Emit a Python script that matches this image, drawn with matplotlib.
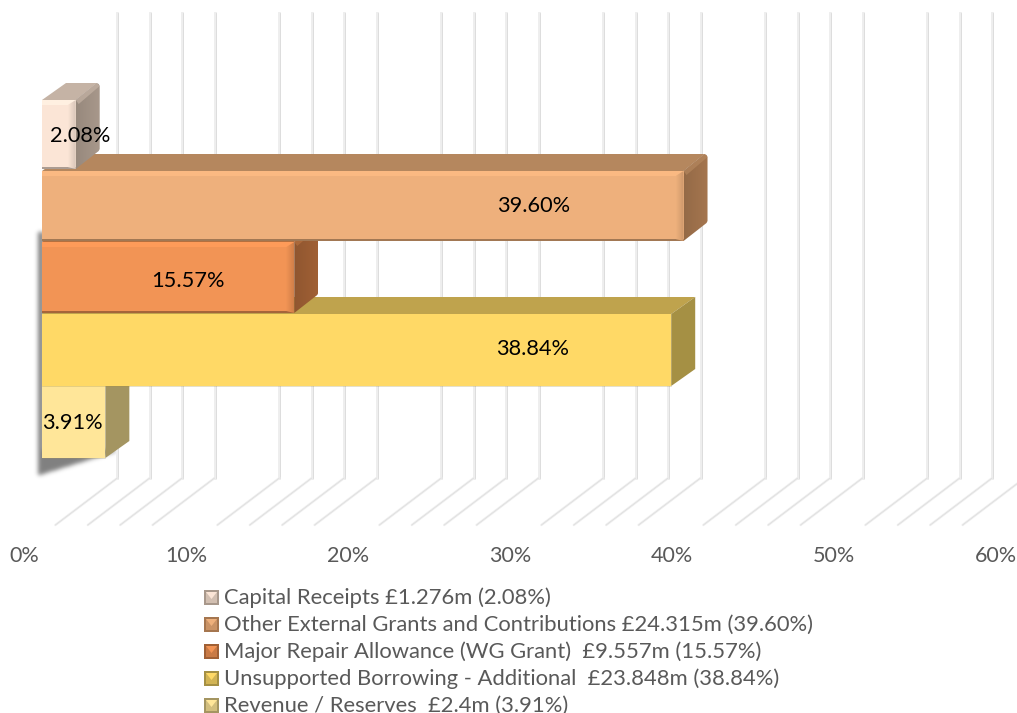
import numpy as np
import matplotlib
matplotlib.use('Agg')
import matplotlib.pyplot as plt
from matplotlib.patches import Polygon, Rectangle
from matplotlib.colors import to_rgb

plt.rcParams['font.family'] = ['Lato', 'DejaVu Sans']

# data, top bar first
names = ['Capital Receipts £1.276m (2.08%)',
         'Other External Grants and Contributions £24.315m (39.60%)',
         'Major Repair Allowance (WG Grant)  £9.557m (15.57%)',
         'Unsupported Borrowing - Additional  £23.848m (38.84%)',
         'Revenue / Reserves  £2.4m (3.91%)']
values = [2.08, 39.60, 15.57, 38.84, 3.91]
value_labels = ['2.08%', '39.60%', '15.57%', '38.84%', '3.91%']
tick_values = [0, 10, 20, 30, 40, 50, 60]
tick_labels = ['0%', '10%', '20%', '30%', '40%', '50%', '60%']
grid_values = [p for p in range(2, 60, 2) if p % 10 != 0]

# styles
faces = ['#FBE5D6', '#EEB07C', '#F29455', '#FFD966', '#FFE699']
tops = ['#C5B3A5', '#B5875E', '#B5703F', '#BFA34D', '#BFAD73']
sides = ['#A8988B', '#A5764F', '#A06035', '#A59044', '#A49561']
bevelled = [True, True, True, False, False]

# layout, in pixels
W, H = 1017, 713
X0 = 42
SCALE = 16.2
FLOOR_X0 = 23
row_top = [100, 171, 242, 314, 386]
row_bot = [169, 241, 313, 386, 458]
label_x = [80, 534, 188, 533, 72]
label_y = [136, 206, 281, 349, 423]
DX, DY = 24, 17


def px(x):
    return (x - X0) / SCALE


fig = plt.figure(figsize=(W / 100, H / 100), dpi=100)
ax = fig.add_axes([0, 0, 1, 1])
ax.set_xlim(px(0), px(W))
ax.set_ylim(H, 0)
ax.axis('off')


def shade(x0, x1, y0, y1, c0, c1, clip=None, z=3):
    c0, c1 = np.array(to_rgb(c0)), np.array(to_rgb(c1))
    t = np.linspace(0, 1, 64)
    img = (c0 + (c1 - c0) * t[:, None])[None, :, :]
    im = ax.imshow(img, extent=(px(x0), px(x1), y1, y0), aspect='auto',
                   zorder=z, interpolation='bilinear')
    if clip is not None:
        im.set_clip_path(Polygon(clip, transform=ax.transData))
    return im


def poly(pts, color, z=3, alpha=1):
    ax.add_patch(Polygon([(px(a), b) for a, b in pts], closed=True, fc=color, ec='none',
                         zorder=z, alpha=alpha))


def mix(c, k):
    return np.clip(np.array(to_rgb(c)) * k, 0, 1)


# gridlines on wall and floor
for p in grid_values:
    fx = FLOOR_X0 + p * SCALE
    bx = fx + 62
    ax.plot([px(bx), px(bx)], [13, 478], color='#EEEEEE', lw=2.1, zorder=1)
    ax.plot([px(bx + 1), px(bx + 1)], [13, 478], color='#D6D6D6', lw=0.5, zorder=1)
    ax.plot([px(bx), px(fx)], [478, 525], color='#EEEEEE', lw=1.7, zorder=1,
            solid_capstyle='round')
    ax.plot([px(bx), px(fx)], [478, 525], color='#DADADA', lw=0.4, zorder=1)

# soft shadow left of the bars and under the last one
gx0, gx1, gy0, gy1 = 26, 116, 222, 492
yy, xx = np.mgrid[gy0:gy1, gx0:gx1]
mask = np.zeros(xx.shape)
mask[(xx >= 38) & (xx < 44) & (yy >= 232) & (yy < 458)] = 1
mask[(yy >= 450) & (xx >= 38) & ((yy - 458) < 17 * (1 - (xx - 38) / 55))] = 1
kernel = np.exp(-np.arange(-8, 9) ** 2 / (2 * 2.2 ** 2))
kernel = kernel / kernel.sum()
mask = np.apply_along_axis(lambda r: np.convolve(r, kernel, mode='same'), 0, mask)
mask = np.apply_along_axis(lambda r: np.convolve(r, kernel, mode='same'), 1, mask)
shadow = np.zeros(xx.shape + (4,))
shadow[..., 3] = mask * 0.5
ax.imshow(shadow, extent=(px(gx0), px(gx1), gy1, gy0), aspect='auto', zorder=2,
          interpolation='bilinear')
ax.set_xlim(px(0), px(W))
ax.set_ylim(H, 0)

# bars, bottom one first so the upper ones sit on top
z = 3
for i in range(len(values) - 1, -1, -1):
    x1 = X0 + values[i] * SCALE
    t, bo = row_top[i], row_bot[i]
    xb, yb = x1 + DX, t - DY
    if bevelled[i]:
        poly([(X0, t), (X0 + DX, yb), (xb - 3, yb), (x1, t)], tops[i], z)
        side = [(x1, t), (xb - 3, yb), (xb - 1, yb + 1), (xb, yb + 3),
                (xb, bo - DY - 3), (xb - 1, bo - DY - 1), (x1, bo)]
        shade(x1, xb, yb, bo, mix(sides[i], 0.9), mix(sides[i], 1.0),
              clip=[(px(a), b) for a, b in side], z=z)
        # mitre between top and side
        poly([(x1, t), (xb - 3, yb), (xb, yb + 3), (x1 + 3, t + 4)], tops[i], z, 0.7)
    else:
        poly([(X0, t), (X0 + DX, yb), (xb, yb), (x1, t)], tops[i], z)
        poly([(x1, t), (xb, yb), (xb, bo - DY), (x1, bo)], sides[i], z)
    poly([(X0, t), (x1, t), (x1, bo), (X0, bo)], faces[i], z)
    if bevelled[i]:
        w = px(x1) - px(X0)
        ax.add_patch(Rectangle((px(X0), t), w, 5, fc=mix(faces[i], 1.05), ec='none', zorder=z))
        ax.add_patch(Rectangle((px(X0), bo - 2), w, 2, fc=mix(faces[i], 0.68), ec='none', zorder=z))
        shade(x1 - 8, x1, t, bo, faces[i], mix(faces[i], 0.86),
              clip=[(px(x1 - 8), t + 5), (px(x1), t), (px(x1), bo), (px(x1 - 8), bo - 2)], z=z)
    else:
        ax.plot([px(X0), px(x1)], [bo, bo], color=sides[i], lw=0.5, alpha=0.4, zorder=z)
    z += 1

for i in range(len(values)):
    ax.text(px(label_x[i]), label_y[i], value_labels[i], fontsize=15.7, color='black',
            ha='center', va='center', zorder=20)

# axis labels
for v, lab in zip(tick_values, tick_labels):
    ax.text(px(FLOOR_X0 + 1) + v, 556, lab, fontsize=15.5, color='#595959', ha='center', va='center')

# legend
for i in range(len(names)):
    yc = 597 + i * 27
    x0, x1, y0, y1 = 204, 219, yc - 7, yc + 8
    xm = (x0 + x1) / 2
    poly([(x0, y0), (x1, y0), (x1, y1), (x0, y1)], sides[i], 5)
    inner = (np.array(to_rgb(faces[i])) + np.array(to_rgb(sides[i]))) / 2
    poly([(x0 + 2, y0 + 2), (x1 - 2, y0 + 2), (x1 - 2, y1 - 2), (x0 + 2, y1 - 2)], inner, 6)
    poly([(x0 + 2, y0 + 2), (x1 - 2, y0 + 2), (xm, yc + 2)], faces[i], 7)
    ax.text(px(224), yc + 1, names[i], fontsize=15.8, color='#595959', ha='left', va='center')

fig.savefig('out.png', dpi=100)
